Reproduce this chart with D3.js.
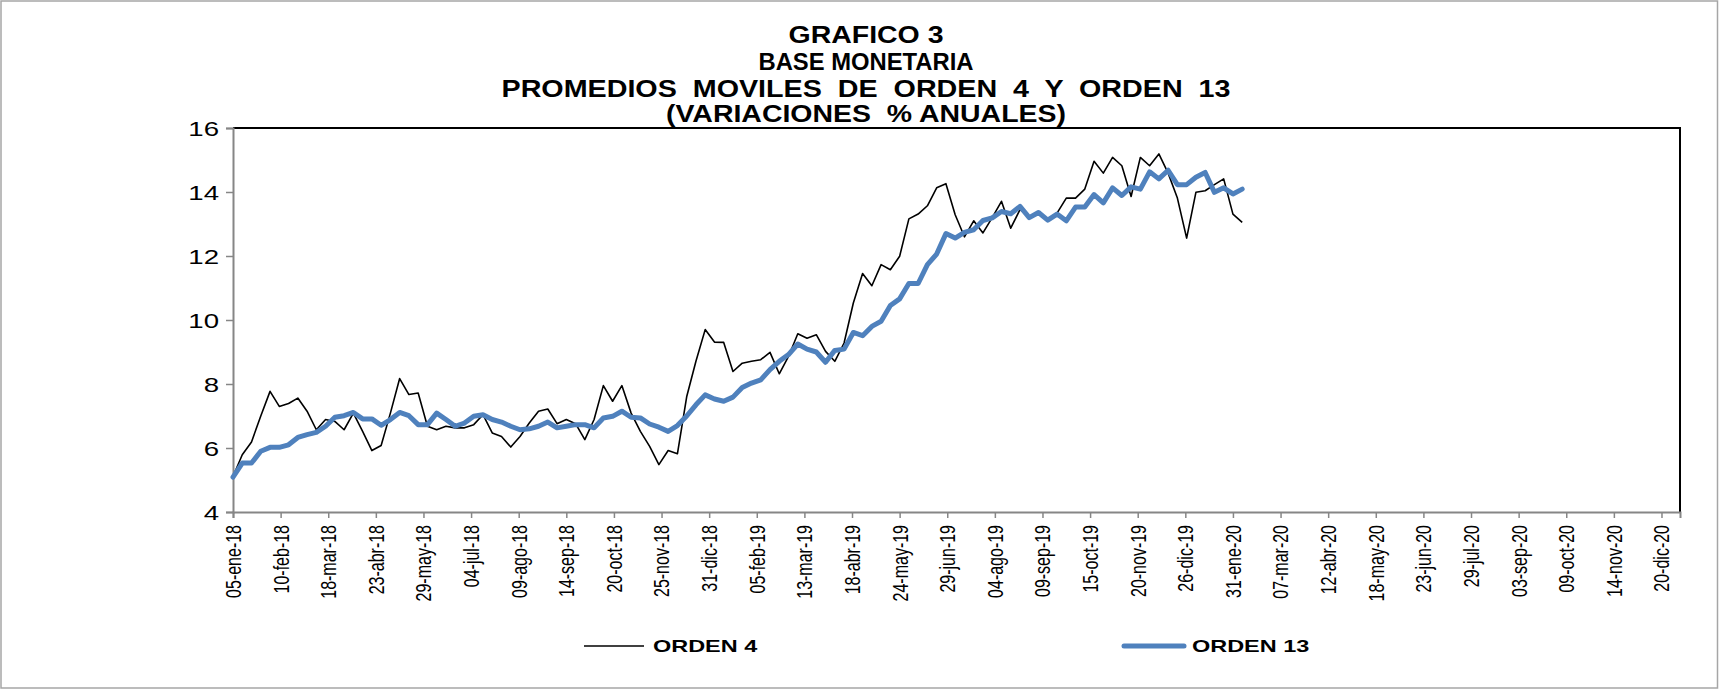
<!DOCTYPE html>
<html lang="es">
<head>
    <meta charset="UTF-8">
    <title>Base monetaria</title>
    <style>
        body { margin: 0; background: #fff; }
        svg text { font-family: "Liberation Sans", Arial, sans-serif; fill: #000; }
        .title text { font-weight: bold; font-size: 23.5px; }
        .ylab { font-size: 20px; }
        .xlab { font-size: 16px; }
        .legend text { font-weight: bold; font-size: 17px; }
    </style>
</head>
<body>
    <script src="https://cdn.jsdelivr.net/npm/d3@7/dist/d3.min.js"></script>
    <script>
        var width = 1719;
        var height = 689;

        // titulo
        var titleLines = ["GRAFICO 3", "BASE MONETARIA", "PROMEDIOS  MOVILES  DE  ORDEN  4  Y  ORDEN  13", "(VARIACIONES  % ANUALES)"];

        // series semanales desde 05-ene-18
        var startDate = "05-ene-18";
        var orden4 = [
            5.11, 5.79, 6.19, 7.00, 7.77, 7.30, 7.39, 7.56, 7.15, 6.57,
            6.89, 6.83, 6.57, 7.09, 6.52, 5.92, 6.08, 7.09, 8.17, 7.67,
            7.72, 6.68, 6.57, 6.68, 6.63, 6.63, 6.73, 7.04, 6.47, 6.36,
            6.03, 6.36, 6.78, 7.15, 7.22, 6.76, 6.89, 6.76, 6.26, 6.89,
            7.95, 7.46, 7.95, 7.09, 6.52, 6.05, 5.48, 5.92, 5.82, 7.60,
            8.71, 9.70, 9.31, 9.30, 8.39, 8.65, 8.71, 8.76, 8.99, 8.32,
            8.86, 9.57, 9.43, 9.54, 9.02, 8.71, 9.28, 10.53, 11.45, 11.07,
            11.73, 11.57, 11.99, 13.16, 13.31, 13.57, 14.13, 14.26, 13.29, 12.60,
            13.10, 12.72, 13.20, 13.71, 12.87, 13.45, 13.25, 13.30, 13.15, 13.34,
            13.81, 13.81, 14.09, 14.96, 14.59, 15.08, 14.82, 13.86, 15.08, 14.82,
            15.19, 14.59, 13.81, 12.56, 13.99, 14.04, 14.23, 14.41, 13.31, 13.05
        ];
        var orden13 = [
            5.09, 5.53, 5.53, 5.90, 6.02, 6.02, 6.10, 6.33, 6.42, 6.49,
            6.68, 6.96, 7.01, 7.11, 6.91, 6.91, 6.71, 6.89, 7.11, 7.01,
            6.73, 6.73, 7.09, 6.89, 6.68, 6.78, 6.99, 7.04, 6.89, 6.81,
            6.68, 6.57, 6.60, 6.68, 6.81, 6.63, 6.68, 6.73, 6.73, 6.63,
            6.94, 6.99, 7.15, 6.96, 6.94, 6.75, 6.65, 6.52, 6.70, 7.00,
            7.35, 7.66, 7.53, 7.46, 7.59, 7.89, 8.03, 8.13, 8.45, 8.71,
            8.92, 9.25, 9.09, 9.00, 8.68, 9.05, 9.09, 9.61, 9.51, 9.80,
            9.96, 10.45, 10.66, 11.14, 11.14, 11.73, 12.06, 12.70, 12.56, 12.74,
            12.82, 13.11, 13.19, 13.39, 13.32, 13.55, 13.20, 13.36, 13.12, 13.31,
            13.10, 13.53, 13.53, 13.92, 13.66, 14.13, 13.89, 14.16, 14.09, 14.63,
            14.41, 14.68, 14.23, 14.23, 14.46, 14.61, 13.99, 14.13, 13.94, 14.09
        ];

        var xTickLabels = [
            "05-ene-18", "10-feb-18", "18-mar-18", "23-abr-18", "29-may-18", "04-jul-18",
            "09-ago-18", "14-sep-18", "20-oct-18", "25-nov-18", "31-dic-18", "05-feb-19",
            "13-mar-19", "18-abr-19", "24-may-19", "29-jun-19", "04-ago-19", "09-sep-19",
            "15-oct-19", "20-nov-19", "26-dic-19", "31-ene-20", "07-mar-20", "12-abr-20",
            "18-may-20", "23-jun-20", "29-jul-20", "03-sep-20", "09-oct-20", "14-nov-20",
            "20-dic-20"
        ];
        var axisEnd = "03-ene-21";
        var yTicks = [4, 6, 8, 10, 12, 14, 16];
        var seriesNames = ["ORDEN 4", "ORDEN 13"];

        var meses = ["ene", "feb", "mar", "abr", "may", "jun", "jul", "ago", "sep", "oct", "nov", "dic"];
        function parseFecha(s) {
            var p = s.split("-");
            return new Date(Date.UTC(2000 + (+p[2]), meses.indexOf(p[1]), +p[0]));
        }

        var margin = { left: 233, top: 128, right: 1680, bottom: 512 };
        var sx = 1.38; // texto ensanchado horizontalmente como en el original

        var svg = d3.select("body").append("svg")
            .attr("width", width)
            .attr("height", height);

        svg.append("rect")
            .attr("x", 1).attr("y", 1)
            .attr("width", width - 2.5).attr("height", height - 2)
            .attr("fill", "#fff")
            .attr("stroke", "#a6a6a6")
            .attr("stroke-width", 1.5);

        var t0 = parseFecha(startDate);
        var x = d3.scaleUtc()
            .domain([t0, parseFecha(axisEnd)])
            .range([margin.left, margin.right]);
        var y = d3.scaleLinear()
            .domain([4, 16])
            .range([margin.bottom, margin.top]);

        var dates = orden4.map(function (d, i) { return d3.utcDay.offset(t0, 7 * i); });

        // titulo: ancho de cada linea medido sobre el original
        var titleY = [43, 70, 96.5, 122];
        var titleW = [155, 215, 729, 400];
        svg.append("g").attr("class", "title")
            .selectAll("text")
            .data(titleLines)
            .enter()
            .append("text")
            .attr("text-anchor", "middle")
            .style("white-space", "pre")
            .attr("x", 866)
            .attr("y", function (d, i) { return titleY[i]; })
            .attr("textLength", function (d, i) { return titleW[i]; })
            .attr("lengthAdjust", "spacingAndGlyphs")
            .text(function (d) { return d; });

        // borde superior y derecho del area de grafico
        svg.append("path")
            .attr("d", "M" + margin.left + "," + margin.top + "H" + margin.right + "V" + margin.bottom)
            .attr("fill", "none")
            .attr("stroke", "#000")
            .attr("stroke-width", 2);

        // eje y
        var yAxis = svg.append("g")
            .attr("transform", "translate(" + margin.left + ",0)")
            .call(d3.axisLeft(y).tickValues(yTicks).tickSize(7).tickFormat(d3.format("d")));
        yAxis.select(".domain").attr("stroke", "#868686").attr("stroke-width", 2);
        yAxis.selectAll(".tick line").attr("stroke", "#868686").attr("stroke-width", 1.5);
        yAxis.selectAll(".tick text")
            .attr("class", "ylab")
            .attr("font-size", null)
            .attr("font-family", null)
            .attr("x", null).attr("dy", null)
            .attr("text-anchor", "end")
            .attr("dominant-baseline", "central")
            .attr("transform", "translate(-14,0) scale(" + sx + ",1)");

        // eje x
        var xAxis = svg.append("g")
            .attr("transform", "translate(0," + margin.bottom + ")")
            .call(d3.axisBottom(x)
                .tickValues(xTickLabels.map(parseFecha))
                .tickSize(6)
                .tickFormat(function (d, i) { return xTickLabels[i]; }));
        xAxis.select(".domain").attr("stroke", "#868686").attr("stroke-width", 2);
        xAxis.selectAll(".tick line").attr("stroke", "#868686").attr("stroke-width", 1.5);
        xAxis.selectAll(".tick text")
            .attr("class", "xlab")
            .attr("font-size", null)
            .attr("font-family", null)
            .attr("y", null).attr("dy", null)
            .attr("text-anchor", "end")
            .attr("dominant-baseline", "central")
            .attr("transform", "translate(0,13) scale(" + sx + ",1) rotate(-90)");

        var line = d3.line()
            .x(function (d, i) { return x(dates[i]); })
            .y(function (d) { return y(d); });

        svg.append("path")
            .datum(orden4)
            .attr("fill", "none")
            .attr("stroke", "#000")
            .attr("stroke-width", 1.6)
            .attr("stroke-linejoin", "round")
            .attr("d", line);

        svg.append("path")
            .datum(orden13)
            .attr("fill", "none")
            .attr("stroke", "#4f81bd")
            .attr("stroke-width", 5)
            .attr("stroke-linejoin", "round")
            .attr("stroke-linecap", "round")
            .attr("d", line);

        // leyenda
        var legend = svg.append("g").attr("class", "legend");
        var legendItems = [
            { name: seriesNames[0], x0: 584, x1: 644, tx: 653, color: "#000", w: 1.6 },
            { name: seriesNames[1], x0: 1124, x1: 1184, tx: 1192, color: "#4f81bd", w: 5 }
        ];
        legendItems.forEach(function (d) {
            legend.append("line")
                .attr("x1", d.x0).attr("x2", d.x1)
                .attr("y1", 646).attr("y2", 646)
                .attr("stroke", d.color)
                .attr("stroke-width", d.w)
                .attr("stroke-linecap", d.w > 2 ? "round" : "butt");
            legend.append("text")
                .attr("dominant-baseline", "central")
                .attr("transform", "translate(" + d.tx + ",646) scale(" + sx + ",1)")
                .text(d.name);
        });
    </script>
</body>
</html>
